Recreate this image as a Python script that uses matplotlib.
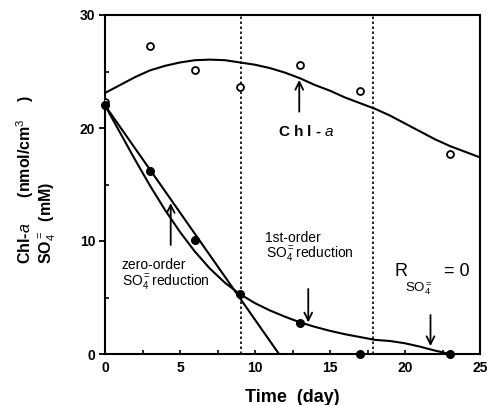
import matplotlib
matplotlib.use("Agg")
import matplotlib.pyplot as plt

plt.rcParams['font.family'] = ['Liberation Sans', 'DejaVu Sans']
plt.rcParams['mathtext.fontset'] = 'custom'
plt.rcParams['mathtext.rm'] = 'Liberation Sans'
plt.rcParams['mathtext.it'] = 'Liberation Sans:italic'
plt.rcParams['mathtext.bf'] = 'Liberation Sans:bold'

# Measured data
days = [0, 3, 6, 9, 13, 17, 23]
chl_a = [22.3, 27.3, 25.1, 23.6, 25.6, 23.3, 17.7]
sulfate = [22.0, 16.2, 10.1, 5.3, 2.7, 0.0, 0.0]

# Fitted Chl-a trend
chl_fit_days = list(range(0, 26))
chl_fit = [23.1, 23.8, 24.5, 25.1, 25.5, 25.8, 26.0, 26.05, 26.0, 25.8,
           25.6, 25.3, 24.9, 24.4, 23.8, 23.3, 22.7, 22.2, 21.7, 21.1,
           20.4, 19.7, 19.0, 18.4, 17.9, 17.4]

# Zero-order sulfate reduction line
zero_days = [0, 11.6]
zero_fit = [22.0, 0.0]

# First-order sulfate reduction curve
first_days = list(range(0, 24))
first_fit = [22.0, 19.6, 17.2, 14.9, 12.75, 10.8, 9.05, 7.55, 6.3, 5.3,
             4.5, 3.85, 3.3, 2.8, 2.4, 2.05, 1.75, 1.5, 1.25, 1.15,
             0.95, 0.65, 0.3, 0.0]

# Phase boundaries
boundaries = [9.05, 17.85]

fig = plt.figure(figsize=(4.87, 4.05), dpi=100)
ax = fig.add_axes([105 / 487, 1 - 354 / 405, 375 / 487, 339 / 405])

for b in boundaries:
    ax.axvline(b, color='black', lw=1.2, ls=(0, (1.5, 1.5)), zorder=1)

ax.plot(chl_fit_days, chl_fit, color='black', lw=1.5, zorder=2)
ax.plot(zero_days, zero_fit, color='black', lw=1.5, zorder=2)
ax.plot(first_days, first_fit, color='black', lw=1.5, zorder=2)

ax.plot(days, chl_a, 'o', mfc='white', mec='black', mew=1.3, ms=5, zorder=3)
ax.plot(days, sulfate, 'o', mfc='black', mec='black', ms=5.5, zorder=4,
        clip_on=False)

ax.set_xlim(0, 25)
ax.set_ylim(0, 30)
ax.set_xticks([0, 5, 10, 15, 20, 25])
ax.set_yticks([0, 10, 20, 30])
ax.set_xticks([2.5, 7.5, 12.5, 17.5, 22.5], minor=True)
ax.set_yticks([5, 15, 25], minor=True)
ax.tick_params(axis='x', which='both', direction='in', length=3, width=1.2,
               labelsize=10, pad=5)
ax.tick_params(axis='y', which='major', direction='out', length=4, width=1.3,
               labelsize=10, pad=3)
ax.tick_params(axis='y', which='minor', direction='in', length=3, width=1.2)
for lab in ax.get_xticklabels() + ax.get_yticklabels():
    lab.set_fontweight('bold')
for s in ax.spines.values():
    s.set_linewidth(1.5)

ax.set_xlabel('Time  (day)', fontsize=13, fontweight='bold', labelpad=10)

# Two-line y-axis label
fig.text(31 / 487, 1 - 264 / 405, r'Chl-$a$      (nmol/cm$^3$    )',
         rotation=90, rotation_mode='anchor', ha='left', va='baseline',
         fontsize=11.5, fontweight='bold')
fig.text(51 / 487, 1 - 264 / 405, r'SO$_4^=$  (mM)', rotation=90,
         rotation_mode='anchor', ha='left', va='baseline', fontsize=11.5,
         fontweight='bold')

arrow = dict(arrowstyle='->', color='black', lw=1.3, mutation_scale=14)

# Chl-a annotation
ax.annotate('', xy=(12.95, 24.5), xytext=(12.95, 21.2), arrowprops=arrow)
ax.text(13.4, 19.7, r'C h l - $a$', ha='center', va='center', fontsize=11,
        fontweight='bold')

# Zero-order annotation
ax.annotate('', xy=(4.38, 13.6), xytext=(4.38, 9.4), arrowprops=arrow)
ax.text(1.1, 7.9, 'zero-order', ha='left', va='center', fontsize=10)
ax.text(1.1, 6.4, r'SO$_4^=$reduction', ha='left', va='center', fontsize=10)

# First-order annotation
ax.annotate('', xy=(13.55, 2.55), xytext=(13.55, 6.0), arrowprops=arrow)
ax.text(10.7, 10.3, '1st-order', ha='left', va='center', fontsize=10)
ax.text(10.7, 8.8, r'SO$_4^=$reduction', ha='left', va='center', fontsize=10)

# No-reduction annotation
ax.annotate('', xy=(21.7, 0.45), xytext=(21.7, 3.7), arrowprops=arrow)
ax.text(19.3, 7.3, 'R', ha='left', va='center', fontsize=13)
ax.text(20.0, 5.75, r'SO$_4^=$', ha='left', va='center', fontsize=9.5)
ax.text(22.6, 7.3, '= 0', ha='left', va='center', fontsize=13)

fig.savefig('out.png', dpi=100)
